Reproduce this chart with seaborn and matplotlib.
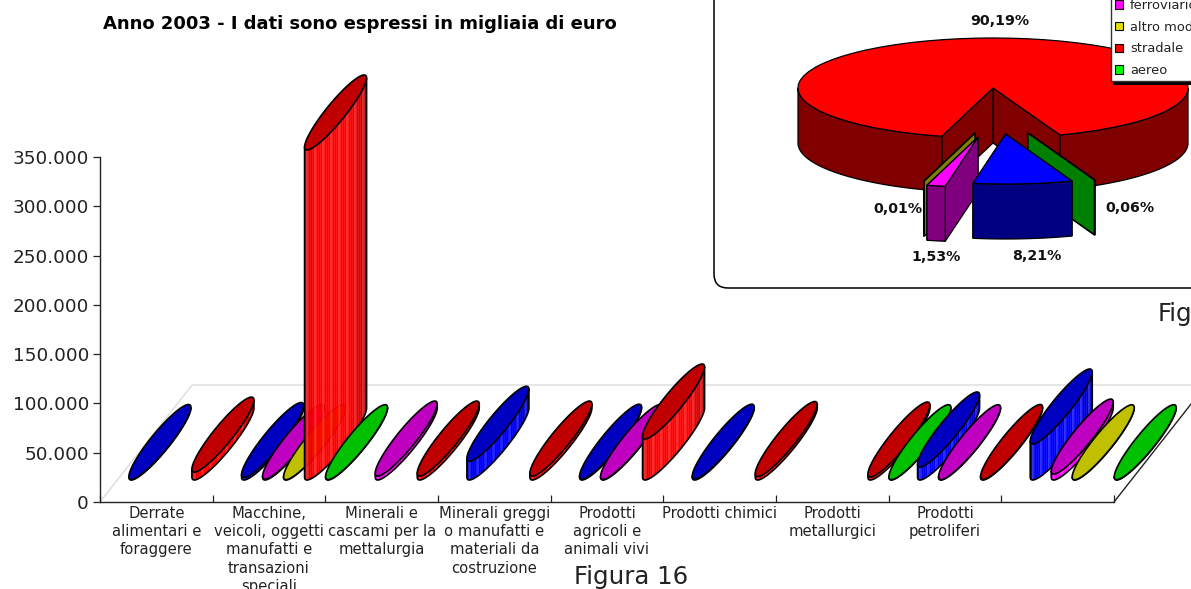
import numpy as np
import pandas as pd
import matplotlib
matplotlib.use("Agg")
import matplotlib.pyplot as plt
from matplotlib.patches import FancyBboxPatch, Rectangle, Patch
import seaborn as sns

categories = ["Derrate\nalimentari e\nforaggere",
              "Macchine,\nveicoli, oggetti\nmanufatti e\ntransazioni\nspeciali",
              "Minerali e\ncascami per la\nmettalurgia",
              "Minerali greggi\no manufatti e\nmateriali da\ncostruzione",
              "Prodotti\nagricoli e\nanimali vivi",
              "Prodotti chimici",
              "Prodotti\nmetallurgici",
              "Prodotti\npetroliferi",
              ""]
series_names = ["marittimo", "ferroviario", "altro modo", "stradale", "aereo"]
marittimo = [500, 2500, None, 19000, 800, 800, None, 13200, 36500]
ferroviario = [None, 800, 4000, None, 500, None, None, 300, 6000]
altro_modo = [None, 300, None, None, None, None, None, None, 200]
stradale = [8000, 334800, 4000, 4000, 41600, 3500, 3000, 500, None]
aereo = [None, 300, None, None, None, None, 300, None, 300]
tick_values = [0, 50000, 100000, 150000, 200000, 250000, 300000, 350000]

pie_names = ["stradale", "altro modo", "ferroviario", "marittimo", "aereo"]
pie_values = [90.19, 0.01, 1.53, 8.21, 0.06]
title_text = "Anno 2003 - I dati sono espressi in migliaia di euro"

W, H = 1191, 589
sns.set_theme(style="white")
plt.rcParams["font.family"] = ["DejaVu Sans"]
plt.rcParams["text.color"] = "#111111"
TOP = {"marittimo": "#0000C0", "ferroviario": "#C000C0", "altro modo": "#C0C000",
       "stradale": "#C00000", "aereo": "#00C000"}
SIDE = {"marittimo": "#0000FF", "ferroviario": "#FF00FF", "altro modo": "#FFFF00",
        "stradale": "#FF0000", "aereo": "#00FF00"}
PIE_TOP = {"stradale": "#FF0000", "altro modo": "#C8C800", "ferroviario": "#FF00FF",
           "marittimo": "#0000FF", "aereo": "#00FF00"}
PIE_WALL = {"stradale": "#800000", "altro modo": "#808000", "ferroviario": "#800080",
            "marittimo": "#000080", "aereo": "#008000"}
PIE_ORDER = {"stradale": 0, "altro modo": 1, "ferroviario": 2, "aereo": 3, "marittimo": 4}

fig = plt.figure(figsize=(W / 100, H / 100), dpi=100)
fig.patch.set_facecolor("white")


def box(l, t, r, b):
    return [l / W, 1 - b / H, (r - l) / W, (b - t) / H]


# pixel-space layer for the panel, titles and captions
bg = fig.add_axes([0, 0, 1, 1], zorder=0)
bg.set_xlim(0, W)
bg.set_ylim(H, 0)
bg.axis("off")
bg.add_patch(FancyBboxPatch((714, -40), 600, 328, boxstyle="round,pad=0,rounding_size=14",
                            fc="white", ec="black", lw=1.1))
bg.text(103, 24, title_text, fontsize=13, fontweight="bold", color="black", va="center", ha="left")
bg.text(631, 577, "Figura 16", fontsize=17.6, va="center", ha="center", color="#222222")
bg.text(1158, 314, "Fig", fontsize=17.6, va="center", ha="left", color="#222222")

# ---------- main chart ----------
ax = fig.add_axes(box(100, 157, 1114, 502), zorder=1)
ax.patch.set_alpha(0)
ax.set_xlim(0, len(categories))
ax.set_ylim(0, 350000)
PX_X = len(categories) / 1014
PX_Y = 350000 / 345

data = pd.DataFrame({"categoria": np.arange(len(categories)),
                     "marittimo": marittimo, "ferroviario": ferroviario,
                     "altro modo": altro_modo, "stradale": stradale, "aereo": aereo})
long = data.melt(id_vars="categoria", var_name="modo", value_name="valore").dropna()
long["slot"] = long["modo"].map(series_names.index)
long = long.sort_values(["categoria", "slot"])


def shade(col, f, white=0.0):
    c = np.array(matplotlib.colors.to_rgb(col)) * f
    return tuple(c + (1 - c) * white)


def cylinder(cat, slot, val, name):
    x0 = cat + (28.9 + 21.0 * slot) * PX_X
    half_w, half_h, tilt = 31, 37.5, 0.40
    cx = x0 + half_w * PX_X
    floor = 22 * PX_Y
    cy = floor + half_h * PX_Y

    def rim(t, level):
        return cx + half_w * PX_X * np.cos(t), cy + level + half_h * PX_Y * np.cos(t - tilt)

    z = 3 + cat * 10 + slot
    xs = np.linspace(-1, 1, 32)
    ts = 2 * np.pi - np.arccos(xs)
    if val > 0:
        for k in range(len(ts) - 1):
            s = k / (len(ts) - 2)
            f = 1.0 if s < 0.75 else 1 - 0.22 * (s - 0.75) / 0.25
            if s < 0.12:
                f = 0.92
            col = shade(SIDE[name], f, 0.16 if k % 4 == 1 else 0)
            tt = np.linspace(ts[k], ts[k + 1], 3)
            xa, ya = rim(tt, val)
            xb, yb = rim(tt[::-1], 0)
            ax.fill(np.r_[xa, xb], np.r_[ya, yb], fc=col, ec=col, lw=0.3, clip_on=False, zorder=z)
        tt = np.linspace(np.pi, 2 * np.pi, 60)
        xa, ya = rim(tt, 0)
        xl, yl = rim(np.array([np.pi]), val)
        xr, yr = rim(np.array([2 * np.pi]), val)
        ax.plot(np.r_[xl, xa, xr], np.r_[yl, ya, yr], color="black", lw=1.2, clip_on=False, zorder=z)
    tt = np.linspace(0, 2 * np.pi, 120)
    xc, yc = rim(tt, val)
    ax.fill(xc, yc, fc=TOP[name], ec="black", lw=1.2, clip_on=False, zorder=z, joinstyle="round")


for row in long.itertuples():
    cylinder(row.categoria, row.slot, row.valore, row.modo)

# floor of the 3D box
fx, fy = 92 * PX_X, 117 * PX_Y
ax.plot([0, fx, len(categories) + fx], [0, fy, fy], color="#DCDCDC", lw=1, clip_on=False, zorder=1)
ax.plot([len(categories), len(categories) + fx], [0, fy], color="#222222", lw=1, clip_on=False, zorder=2)

sns.despine(ax=ax, top=True, right=True)
for s in ("left", "bottom"):
    ax.spines[s].set_color("#222222")
    ax.spines[s].set_linewidth(1)
ax.set_yticks(tick_values, [f"{v:,.0f}".replace(",", ".") for v in tick_values])
ax.tick_params(axis="y", direction="out", length=5, width=0.9, color="#222222", labelsize=13.2,
               labelcolor="#222222", pad=3, left=True)
ax.set_xticks(range(len(categories) + 1), [""] * (len(categories) + 1))
ax.tick_params(axis="x", which="major", direction="in", length=5, width=0.9, color="#222222", bottom=True)
ax.set_xticks(np.arange(len(categories)) + 0.5, categories, minor=True)
ax.tick_params(axis="x", which="minor", length=0, pad=3, labelsize=10.6, labelcolor="#222222")
for lab in ax.get_xticklabels(minor=True):
    lab.set_linespacing(1.26)
    lab.set_clip_on(False)

# ---------- pie ----------
PIE_L, PIE_R, PIE_T, PIE_B = 715, 1191, 0, 287
CX, CY, RX, RY = 993, 88, 195, 50
DEPTH = 55 / RY
pie_dx = {"stradale": 0, "altro modo": -18, "ferroviario": -15, "marittimo": 12.7, "aereo": 35}
pie_dy = {"stradale": 0, "altro modo": 45, "ferroviario": 49, "marittimo": 46, "aereo": 45}

pa = fig.add_axes(box(PIE_L, PIE_T, PIE_R, PIE_B), zorder=2)
pa.patch.set_alpha(0)
wedges, _ = pa.pie(pie_values, startangle=-69.9, counterclock=True, radius=1,
                   colors=[PIE_TOP[n] for n in pie_names],
                   wedgeprops=dict(edgecolor="black", linewidth=0.9))
pa.set_aspect("auto")
pa.set_xlim((PIE_L - CX) / RX, (PIE_R - CX) / RX)
pa.set_ylim((CY - PIE_B) / RY, (CY - PIE_T) / RY)
pa.axis("off")

for w, name in zip(wedges, pie_names):
    ox, oy = pie_dx[name] / RX, -pie_dy[name] / RY
    z = 3 + 2 * PIE_ORDER[name]
    w.set_center((ox, oy))
    w.set_zorder(z + 1)
    kw = dict(fc=PIE_WALL[name], ec="black", lw=0.9, zorder=z)
    for th in (w.theta1, w.theta2):
        ex, ey = ox + np.cos(np.radians(th)), oy + np.sin(np.radians(th))
        pa.fill([ox, ex, ex, ox], [oy, ey, ey - DEPTH, oy - DEPTH], **kw)
    for a, b in ((-180, 0), (180, 360)):
        lo, hi = max(a, w.theta1), min(b, w.theta2)
        if hi > lo:
            th = np.radians(np.linspace(lo, hi, 80))
            xs, ys = ox + np.cos(th), oy + np.sin(th)
            pa.fill(np.r_[xs, xs[::-1]], np.r_[ys, ys[::-1] - DEPTH], **kw)

pct = [f"{v:.2f}".replace(".", ",") + "%" for v in pie_values]
label_xy = [(1000, 21), (898, 209), (936, 257), (1037, 256), (1130, 208)]
for txt, (lx, ly) in zip(pct, label_xy):
    pa.text((lx - CX) / RX, (CY - ly) / RY, txt, fontsize=10.2, fontweight="bold", color="#111111",
            ha="center", va="center", zorder=30)

# legend (runs off the figure edge like the reference)
legend_names = ["ferroviario", "altro modo", "stradale", "aereo"]
handles = [Patch(fc=SIDE[n] if n != "altro modo" else "#E0E000", ec="black", lw=0.8) for n in legend_names]
leg = fig.legend(handles, legend_names, loc="lower left", bbox_to_anchor=(1111 / W, 1 - 81 / H),
                 frameon=True, fancybox=False, edgecolor="#333333", framealpha=1, fontsize=9.4,
                 handlelength=0.62, handleheight=0.62, handletextpad=0.55, labelspacing=0.66,
                 borderpad=0.3, borderaxespad=0, labelcolor="#222222")
leg.set_zorder(40)
fig.add_artist(Rectangle((1113 / W, 1 - 84.5 / H), 90 / W, 3.5 / H, transform=fig.transFigure,
                         fc="black", ec="none", zorder=39))

fig.savefig("out.png", dpi=100)
